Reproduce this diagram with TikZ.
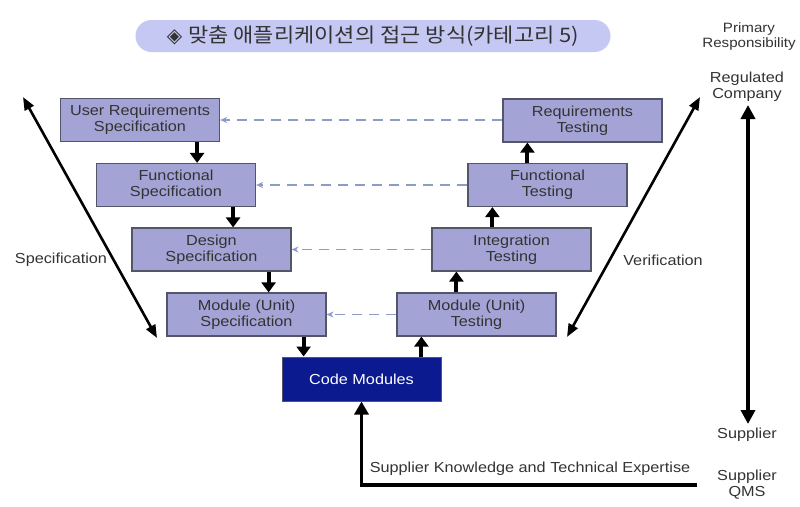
\documentclass[tikz,border=0pt]{standalone}
\usepackage{fontspec}
\setmainfont{Liberation Sans}[FakeStretch=1.12]
\newfontfamily\krfont{Noto Sans CJK KR}[FakeStretch=1.1]
\newfontfamily\symfont{DejaVu Sans}
\usetikzlibrary{arrows.meta,calc}
\definecolor{boxfill}{HTML}{A3A3D6}
\definecolor{boxline}{HTML}{55556A}
\definecolor{navy}{HTML}{0B1A8E}
\definecolor{txt}{HTML}{333333}
\definecolor{dashc}{HTML}{8C9CC8}
\definecolor{pill}{HTML}{C6C8F4}
\begin{document}
\begin{tikzpicture}[x=1pt,y=-1pt,
  every node/.style={text=txt,font=\fontsize{14.5}{16}\selectfont},
  vbox/.style={draw=boxline,line width=1.2pt,fill=boxfill,minimum width=159pt,minimum height=43pt,align=center,inner sep=0pt},
  codebox/.style={draw=boxline,line width=1pt,fill=navy,minimum width=159pt,minimum height=44pt,text=white,align=center,inner sep=0pt},
  boxarr/.style={line width=4pt,-{Triangle[width=14pt,length=10pt]}},
  dasharr/.style={dashc,line width=1.4pt,dash pattern=on 10pt off 7pt,-{Stealth[width=6pt,length=7pt]}},
  bigarr/.style={line width=2.6pt,{Triangle[width=10pt,length=13pt]}-{Triangle[width=10pt,length=13pt]}},
  vertarr/.style={line width=4pt,{Triangle[width=14pt,length=14pt]}-{Triangle[width=14pt,length=14pt]}},
  label/.style={align=center,inner sep=0pt}
]
\useasboundingbox[fill=white] (0,0) rectangle (800,506);
% title
\node[fill=pill,rounded corners=16pt,minimum width=475pt,minimum height=32pt,inner sep=0pt] (title) at (373,36)
  {\fontsize{20}{22}\selectfont{\symfont ◈} {\krfont 맞춤 애플리케이션의 접근 방식(카테고리 5)}};
% boxes
\node[vbox] (urs) at (140,120) {User Requirements\\Specification};
\node[vbox] (fs) at (176,185) {Functional\\Specification};
\node[vbox] (ds) at (211.5,249.5) {Design\\Specification};
\node[vbox] (ms) at (246.5,314.5) {Module (Unit)\\Specification};
\node[codebox] (code) at (361.5,379) {Code Modules};
\node[vbox] (mt) at (476.5,314.5) {Module (Unit)\\Testing};
\node[vbox] (it) at (511.5,249.5) {Integration\\Testing};
\node[vbox] (ft) at (547.5,185) {Functional\\Testing};
\node[vbox] (rt) at (582.5,120.5) {Requirements\\Testing};
% down arrows
\draw[boxarr] ([xshift=-23pt]urs.south east) -- ([xshift=-23pt]urs.south east |- fs.north);
\draw[boxarr] ([xshift=-23pt]fs.south east) -- ([xshift=-23pt]fs.south east |- ds.north);
\draw[boxarr] ([xshift=-23pt]ds.south east) -- ([xshift=-23pt]ds.south east |- ms.north);
\draw[boxarr] ([xshift=-23pt]ms.south east) -- ([xshift=-23pt]ms.south east |- code.north);
% up arrows
\draw[boxarr] ([xshift=25pt]mt.south west |- code.north) -- ([xshift=25pt]mt.south west);
\draw[boxarr] ([xshift=25pt]it.south west |- mt.north) -- ([xshift=25pt]it.south west);
\draw[boxarr] ([xshift=25pt]ft.south west |- it.north) -- ([xshift=25pt]ft.south west);
\draw[boxarr] ([xshift=25pt]rt.south west |- ft.north) -- ([xshift=25pt]rt.south west);
% dashed
\draw[dasharr] (rt.west |- urs.east) -- (urs.east);
\draw[dasharr] (ft.west) -- (fs.east);
\draw[dasharr] (it.west) -- (ds.east);
\draw[dasharr] (mt.west) -- (ms.east);
% diagonals
\coordinate (sTop) at (23,97);
\coordinate (sBot) at (157,338);
\coordinate (vTop) at (700,97);
\coordinate (vBot) at (567,337);
\draw[bigarr] (sTop) -- (sBot);
\draw[bigarr] (vTop) -- (vBot);
\node[label] (spec) at (61,260) {Specification};
\node[label] (verif) at (663,260) {Verification};
% right side
\node[label,font=\fontsize{13.5}{15}\selectfont] (prim) at (749,37) {Primary\\Responsibility};
\node[label] (reg) at (747,87) {Regulated\\Company};
\node[label] (sup) at (747,435) {Supplier};
\node[label] (qms) at (747,485) {Supplier\\QMS};
\coordinate (rTop) at (748,105);
\coordinate (rBot) at (748,424);
\draw[vertarr] (rTop) -- (rBot);
% bottom
\coordinate (kEnd) at (697,485);
\draw[line width=3.5pt,-{Triangle[width=14pt,length=13pt]}] (kEnd) -| (code.south);
\node[label] (know) at (530,469) {Supplier Knowledge and Technical Expertise};
\end{tikzpicture}
\end{document}
